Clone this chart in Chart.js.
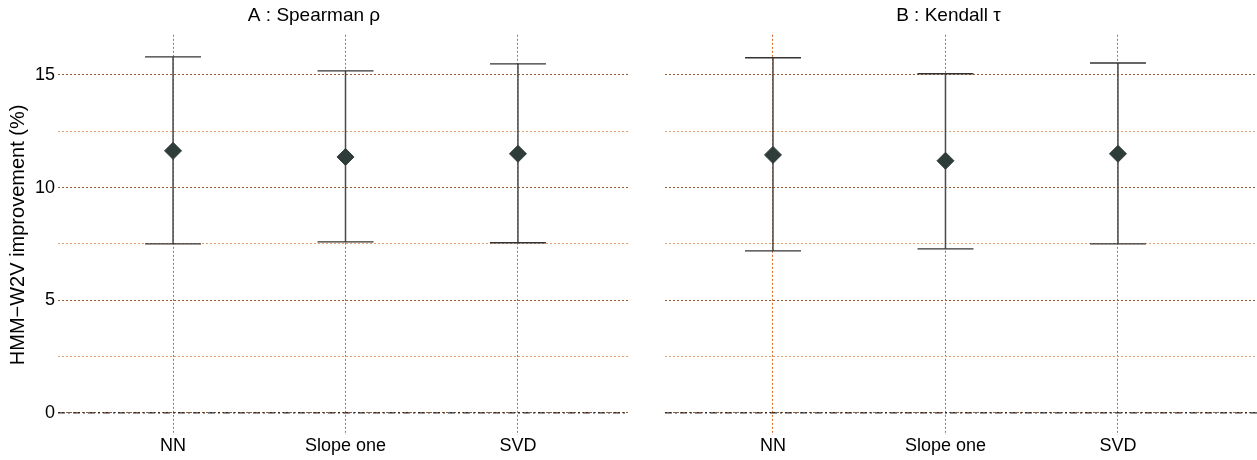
<!DOCTYPE html>
<html>
<head>
<meta charset="utf-8">
<script src="https://cdn.jsdelivr.net/npm/chart.js@4"></script>
<style>
  html, body { margin: 0; padding: 0; background: #fff; overflow: hidden; }
  #wrap { position: relative; width: 1257px; height: 460px; }
  canvas { position: absolute; top: 0; }
</style>
</head>
<body>
<div id="wrap">
  <canvas id="cA" width="640" height="460" style="left:0px"></canvas>
  <canvas id="cB" width="617" height="460" style="left:640px"></canvas>
</div>
<script>
const categories = ['NN', 'Slope one', 'SVD'];
const spearmanMean = [11.63, 11.36, 11.50];
const spearmanLow  = [7.50, 7.59, 7.55];
const spearmanHigh = [15.80, 15.18, 15.49];
const kendallMean  = [11.45, 11.19, 11.50];
const kendallLow   = [7.19, 7.28, 7.50];
const kendallHigh  = [15.76, 15.05, 15.53];
const yTicks = [0, 2.5, 5, 7.5, 10, 12.5, 15];
const yMajor = [0, 5, 10, 15];

const FONT = '"Liberation Sans", Arial, Helvetica, sans-serif';

function makeChart(id, title, mean, low, high, cfg) {
  const xMin = cfg.xMin, xMax = cfg.xMax;
  const datasets = [];
  datasets.push({
    type: 'line', label: 'zero',
    data: [{x: xMin, y: 0}, {x: xMax, y: 0}],
    borderColor: '#000', borderWidth: 1, borderDash: [7, 3, 2, 3],
    pointRadius: 0, order: 5
  });
  categories.forEach((c, i) => {
    datasets.push({
      type: 'line', label: 'whisker ' + c,
      data: [{x: i, y: low[i]}, {x: i, y: high[i]}],
      borderColor: '#4a4a4a', borderWidth: 1.5,
      pointRadius: 0, order: 3
    });
  });
  datasets.push({
    type: 'scatter', label: 'caps',
    data: categories.flatMap((c, i) => [{x: i, y: low[i]}, {x: i, y: high[i]}]),
    pointStyle: 'line', pointRadius: 28, pointBorderColor: '#333', pointBorderWidth: 1.4,
    borderColor: '#333', borderWidth: 1.4, backgroundColor: '#333', order: 2
  });
  datasets.push({
    type: 'scatter', label: 'mean',
    data: categories.map((c, i) => ({x: i, y: mean[i]})),
    pointStyle: 'rectRot', pointRadius: 8.5, backgroundColor: '#2f3d3a',
    borderColor: '#2f3d3a', borderWidth: 1, order: 0
  });

  return new Chart(document.getElementById(id), {
    type: 'scatter',
    data: { datasets },
    options: {
      responsive: false,
      animation: false,
      events: [],
      layout: { autoPadding: false, padding: { left: 0, right: cfg.padRight, top: 0, bottom: 0 } },
      plugins: {
        legend: { display: false },
        tooltip: { enabled: false },
        title: {
          display: true, text: title, color: '#000',
          font: { family: FONT, size: 19, weight: 'normal' },
          padding: { top: 4, bottom: 8 }
        }
      },
      scales: {
        x: {
          type: 'linear', min: xMin, max: xMax,
          afterBuildTicks: s => { s.ticks = categories.map((c, i) => ({ value: i })); },
          afterFit: s => { s.height = 25; },
          ticks: {
            callback: v => categories[v], color: '#000',
            font: { family: FONT, size: 18 }, padding: 0, autoSkip: false, maxRotation: 0
          },
          grid: { color: '#cf6a26', lineWidth: 1, drawTicks: false },
          border: { display: false, dash: [2, 2] }
        },
        y: {
          type: 'linear', min: -0.98, max: 16.78,
          afterBuildTicks: s => { s.ticks = yTicks.map(v => ({ value: v })); },
          afterFit: s => { s.width = cfg.yWidth; },
          ticks: {
            display: cfg.showY,
            callback: v => (yMajor.includes(v) ? String(v) : ''),
            color: '#000', font: { family: FONT, size: 18 }, padding: 3
          },
          title: {
            display: cfg.showY, text: 'HMM\u2212W2V improvement (%)', color: '#000',
            font: { family: FONT, size: 20 }, padding: { top: 6, bottom: 0 }
          },
          grid: {
            drawTicks: false, lineWidth: 1,
            color: ctx => (ctx.tick && yMajor.includes(ctx.tick.value) ? '#9c5b2e' : '#e0a070')
          },
          border: { display: false, dash: [2, 2] }
        }
      }
    }
  });
}

makeChart('cA', 'A : Spearman \u03c1', spearmanMean, spearmanLow, spearmanHigh,
  { xMin: -0.667, xMax: 2.638, padRight: 12, yWidth: 58, showY: true });
makeChart('cB', 'B : Kendall \u03c4', kendallMean, kendallLow, kendallHigh,
  { xMin: -0.626, xMax: 2.806, padRight: 0, yWidth: 25, showY: false });
</script>
</body>
</html>
